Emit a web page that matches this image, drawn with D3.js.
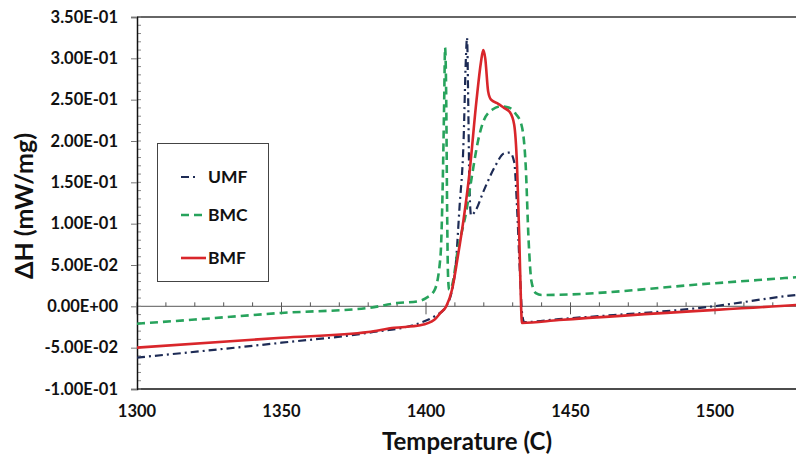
<!DOCTYPE html>
<html>
<head>
<meta charset="utf-8">
<script src="https://cdn.jsdelivr.net/npm/d3@7"></script>
<style>
  body { margin: 0; background: #fff; }
  svg { display: block; font-family: Lato, "Open Sans", sans-serif; }
</style>
</head>
<body>
<svg id="chart" width="796" height="458"></svg>
<script>
// temperature (C) and dH (mW/mg)
const umfT = [1300, 1350, 1380, 1398, 1403, 1407, 1410, 1411.6, 1413, 1413.8, 1414.2, 1414.6, 1415, 1415.6, 1417, 1420, 1424, 1427, 1429, 1430.5, 1431.5, 1432.5, 1433.3, 1434, 1446, 1497, 1528, 1550];
const umfH = [-0.062, -0.044, -0.032, -0.020, -0.012, 0.0, 0.04, 0.12, 0.20, 0.30, 0.325, 0.25, 0.15, 0.11, 0.115, 0.14, 0.17, 0.185, 0.186, 0.175, 0.12, 0.04, -0.01, -0.019, -0.0155, -0.001, 0.0137, 0.02];

const bmcT = [1300, 1320, 1350, 1380, 1390, 1397, 1400, 1403, 1405, 1405.8, 1406.3, 1406.6, 1407, 1407.3, 1407.6, 1408, 1409, 1411, 1414, 1416, 1418, 1420, 1423, 1426, 1429, 1431, 1433, 1434.5, 1435.5, 1436.5, 1438, 1440, 1500, 1550];
const bmcH = [-0.021, -0.016, -0.008, -0.002, 0.004, 0.006, 0.010, 0.02, 0.06, 0.15, 0.25, 0.313, 0.25, 0.12, 0.04, 0.02, 0.025, 0.068, 0.116, 0.16, 0.20, 0.225, 0.238, 0.242, 0.24, 0.233, 0.22, 0.17, 0.08, 0.03, 0.016, 0.0137, 0.028, 0.041];

const bmfT = [1300, 1350, 1380, 1389, 1398, 1403, 1405, 1407, 1409, 1411, 1413, 1415, 1417.5, 1419, 1419.8, 1420.5, 1421.5, 1422.5, 1425, 1427, 1429, 1430.5, 1431.5, 1432.3, 1432.9, 1433.2, 1446, 1528, 1550];
const bmfH = [-0.050, -0.038, -0.031, -0.026, -0.023, -0.016, -0.008, 0.0, 0.02, 0.06, 0.105, 0.16, 0.25, 0.295, 0.31, 0.30, 0.26, 0.25, 0.245, 0.24, 0.235, 0.22, 0.17, 0.08, 0.0, -0.02, -0.0166, 0.0016, 0.0065];

const xTicks = [1300, 1350, 1400, 1450, 1500, 1550];
const yTicks = [-0.10, -0.05, 0, 0.05, 0.10, 0.15, 0.20, 0.25, 0.30, 0.35];

const series = [
  { name: "UMF", T: umfT, H: umfH, color: "#1d2b55", width: 2.2, dash: "8,4,2,4" },
  { name: "BMC", T: bmcT, H: bmcH, color: "#27a35c", width: 2.6, dash: "8,5" },
  { name: "BMF", T: bmfT, H: bmfH, color: "#d9262b", width: 2.6, dash: null }
];

const svg = d3.select("#chart");
const plotLeft = 137, plotTop = 17, plotBottom = 389, plotRight = 796;

const x = d3.scaleLinear().domain([1300, 1550]).range([plotLeft, plotLeft + 5 * 144.5]);
const y = d3.scaleLinear().domain([-0.10, 0.35]).range([plotBottom, plotTop]);

svg.append("rect").attr("width", 796).attr("height", 458).attr("fill", "#fff");

svg.append("clipPath").attr("id", "plot")
  .append("rect").attr("x", plotLeft).attr("y", plotTop - 3)
  .attr("width", plotRight - plotLeft).attr("height", plotBottom - plotTop + 3);

// frame: top and bottom edge, left axis
svg.append("line").attr("x1", plotLeft).attr("x2", plotRight).attr("y1", plotTop).attr("y2", plotTop)
  .attr("stroke", "#333").attr("stroke-width", 1.5);
svg.append("line").attr("x1", plotLeft).attr("x2", plotRight).attr("y1", plotBottom).attr("y2", plotBottom)
  .attr("stroke", "#111").attr("stroke-width", 1.5);

// zero line with its ticks
svg.append("line").attr("x1", plotLeft).attr("x2", plotRight).attr("y1", y(0)).attr("y2", y(0))
  .attr("stroke", "#7a7a7a").attr("stroke-width", 1.2);
const minorX = d3.range(1300, 1551, 10);
svg.append("g").selectAll("line")
  .data(minorX)
  .join("line")
    .attr("x1", d => x(d)).attr("x2", d => x(d))
    .attr("y1", d => d % 50 === 0 ? y(0) + 8 : y(0))
    .attr("y2", y(0) - 4)
    .attr("stroke", "#555").attr("stroke-width", 1);

// y axis
const minorY = d3.range(-10, 36).map(d => d / 100);
svg.append("g").selectAll("line")
  .data(minorY)
  .join("line")
    .attr("x1", plotLeft).attr("x2", plotLeft + 4)
    .attr("y1", d => y(d)).attr("y2", d => y(d))
    .attr("stroke", "#888").attr("stroke-width", 1);

const fmt = v => {
  if (v === 0) return "0.00E+00";
  const e = Math.floor(Math.log10(Math.abs(v)) + 1e-9);
  const m = v / Math.pow(10, e);
  return m.toFixed(2) + "E" + (e < 0 ? "-" : "+") + String(Math.abs(e)).padStart(2, "0");
};

svg.append("g")
    .attr("transform", `translate(${plotLeft},0)`)
    .call(d3.axisLeft(y).tickValues(yTicks).tickSize(6).tickPadding(13).tickFormat(fmt))
    .call(g => g.select(".domain").attr("stroke", "#111").attr("stroke-width", 1.5))
    .call(g => g.selectAll(".tick line").attr("stroke", "#777"))
    .call(g => g.selectAll("text")
      .attr("font-family", "Lato, sans-serif")
      .attr("font-size", 16.5).attr("font-weight", "bold").attr("fill", "#111"));

svg.append("g").selectAll("text")
  .data(xTicks.filter(d => x(d) < plotRight))
  .join("text")
    .attr("x", d => x(d)).attr("y", 417)
    .attr("text-anchor", "middle")
    .attr("font-size", 16.5).attr("font-weight", "bold").attr("fill", "#111")
    .text(d => d);

svg.append("text")
    .attr("x", 467).attr("y", 450)
    .attr("text-anchor", "middle")
    .attr("font-size", 24).attr("font-weight", "bold").attr("fill", "#111")
    .text("Temperature (C)");

svg.append("text")
    .attr("transform", "translate(33,206) rotate(-90)")
    .attr("text-anchor", "middle")
    .attr("font-size", 25).attr("font-weight", "bold").attr("fill", "#111")
    .text("ΔH (mW/mg)");

// curves
const line = d3.line()
  .x(d => x(d[0]))
  .y(d => y(d[1]))
  .curve(d3.curveMonotoneX);

svg.append("g")
    .attr("clip-path", "url(#plot)")
  .selectAll("path")
  .data(series)
  .join("path")
    .attr("fill", "none")
    .attr("stroke", d => d.color)
    .attr("stroke-width", d => d.width)
    .attr("stroke-dasharray", d => d.dash)
    .attr("stroke-linejoin", "round")
    .attr("d", d => line(d3.zip(d.T, d.H)));

// legend
const legend = svg.append("g");
legend.append("rect")
    .attr("x", 157.5).attr("y", 143.5).attr("width", 111).attr("height", 138)
    .attr("fill", "#fff").attr("stroke", "#444").attr("stroke-width", 1);

const legendY = [177, 215, 258];
legend.selectAll("g")
  .data(series)
  .join("g")
    .attr("transform", (d, i) => `translate(0,${legendY[i]})`)
    .call(g => g.append("line")
      .attr("x1", 181).attr("x2", d => d.name === "UMF" ? 198 : 206)
      .attr("stroke", d => d.color)
      .attr("stroke-width", d => d.width)
      .attr("stroke-dasharray", d => d.dash))
    .call(g => g.append("text")
      .attr("x", 208).attr("dy", "0.35em")
      .attr("font-size", 17.5).attr("font-weight", "bold").attr("fill", "#111")
      .text(d => d.name));
</script>
</body>
</html>
